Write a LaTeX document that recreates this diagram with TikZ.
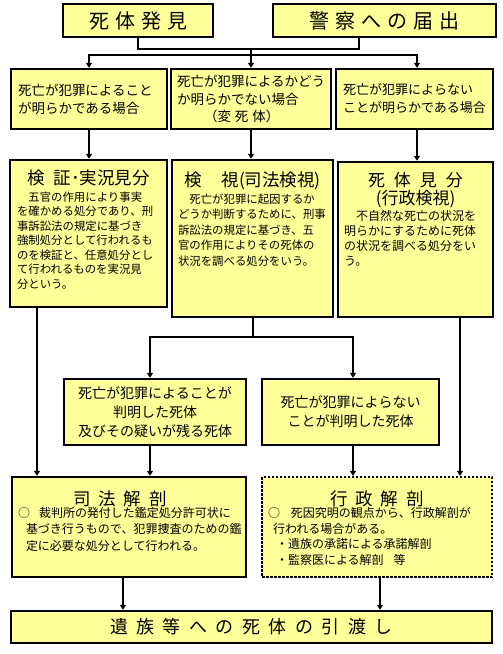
\documentclass[tikz,border=0pt]{standalone}
\usepackage{fontspec}
\setmainfont{Noto Sans CJK JP}
\usetikzlibrary{arrows.meta}
\definecolor{paleyellow}{HTML}{FFFF99}

\begin{document}
\begin{tikzpicture}[x=1pt,y=-1pt]
        \useasboundingbox (0,0) rectangle (503,654);
        \begin{scope}[every node/.style={rectangle,draw,fill=paleyellow,line width=2.4pt,inner sep=0pt}]
            % top row
            \node (1) [minimum width=150pt,minimum height=33pt,font=\fontsize{20}{24}\selectfont] at (138,20.5) {死\hspace{6pt}体\hspace{6pt}発\hspace{6pt}見};
            \node (2) [minimum width=223pt,minimum height=33pt,font=\fontsize{20}{24}\selectfont] at (384.5,20.5) {警\hspace{6pt}察\hspace{6pt}へ\hspace{6pt}の\hspace{6pt}届\hspace{6pt}出};
            % three cases
            \node (3) [minimum width=156pt,minimum height=60pt,text width=142pt,align=left,font=\fontsize{13.5}{18}\selectfont] at (89,99) {死亡が犯罪によること\\が明らかである場合};
            \node (4) [minimum width=160pt,minimum height=60pt,text width=148pt,align=left,font=\fontsize{13.5}{17.5}\selectfont] at (251,99) {死亡が犯罪によるかどう\\か明らかでない場合\\\hspace*{27pt}（変\hspace{4pt}死\hspace{4pt}体）};
            \node (5) [minimum width=157pt,minimum height=60pt,text width=143pt,align=left,font=\fontsize{13}{18}\selectfont] at (414.5,99) {死亡が犯罪によらない\\ことが明らかである場合};
            % procedures
            \node (6) [minimum width=157pt,minimum height=147pt] at (88.5,233.5) {\parbox[c][139pt][t]{143pt}{\vspace*{6pt}\centering\fontsize{17.5}{21}\selectfont 検\hspace{9pt}証･実況見分\par
                \vspace{2pt}\raggedright\fontsize{11.4}{14.5}\selectfont
                \hspace*{11.4pt}五官の作用により事実\\
                を確かめる処分であり、刑\\
                事訴訟法の規定に基づき\\
                強制処分として行われるも\\
                のを検証と、任意処分とし\\
                て行われるものを実況見\\
                分という。}};
            \node (7) [minimum width=161pt,minimum height=157pt] at (252.5,238.5) {\parbox[c][149pt][t]{149pt}{\vspace*{8pt}\centering\fontsize{17.5}{21}\selectfont 検\hspace{20pt}視(司法検視)\par
                \vspace{1pt}\raggedright\fontsize{11.4}{15.5}\selectfont
                \hspace*{11.4pt}死亡が犯罪に起因するか\\
                どうか判断するために、刑事\\
                訴訟法の規定に基づき、五\\
                官の作用によりその死体の\\
                状況を調べる処分をいう。}};
            \node (8) [minimum width=155pt,minimum height=155pt] at (415.5,239.5) {\parbox[c][147pt][t]{143pt}{\vspace*{6pt}\centering\fontsize{17}{18}\selectfont 死\hspace{9pt}体\hspace{9pt}見\hspace{9pt}分\\(行政検視)\par
                \vspace{1pt}\raggedright\fontsize{12}{15}\selectfont
                \hspace*{12pt}不自然な死亡の状況を\\
                明らかにするために死体\\
                の状況を調べる処分をい\\
                う。}};
            % results
            \node (9) [minimum width=182pt,minimum height=66pt,align=center,font=\fontsize{14}{19}\selectfont] at (155,412) {死亡が犯罪によることが\\判明した死体\\及びその疑いが残る死体};
            \node (10) [minimum width=177pt,minimum height=66pt,align=center,font=\fontsize{14}{19}\selectfont] at (350.5,412) {死亡が犯罪によらない\\ことが判明した死体};
            % autopsies
            \node (11) [minimum width=234pt,minimum height=100pt] at (129,527) {\parbox[c][92pt][t]{222pt}{\vspace*{10pt}\centering\fontsize{17.5}{21}\selectfont \hspace*{-18pt}司\hspace{8pt}法\hspace{8pt}解\hspace{8pt}剖\par
                \vspace{-5pt}\raggedright\fontsize{12}{16.5}\selectfont
                ○\hspace{9pt}裁判所の発付した鑑定処分許可状に\\
                \hspace*{8pt}基づき行うもので、犯罪捜査のための鑑\\
                \hspace*{8pt}定に必要な処分として行われる。}};
            \node (12) [minimum width=230pt,minimum height=100pt,line width=2.2pt,dash pattern=on 2.5pt off 1.5pt] at (377,527) {\parbox[c][92pt][t]{218pt}{\vspace*{10pt}\centering\fontsize{17.5}{21}\selectfont 行\hspace{8pt}政\hspace{8pt}解\hspace{8pt}剖\par
                \vspace{-4pt}\raggedright\fontsize{12}{15.7}\selectfont
                ○\hspace{11pt}死因究明の観点から、行政解剖が\\
                \hspace*{5pt}行われる場合がある。\\
                \hspace*{8pt}・遺族の承諾による承諾解剖\\
                \hspace*{8pt}・監察医による解剖\hspace{10pt}等}};
            % hand over
            \node (13) [minimum width=481pt,minimum height=32pt,font=\fontsize{18}{22}\selectfont] at (251.5,627) {遺\hspace{8.5pt}族\hspace{8.5pt}等\hspace{8.5pt}へ\hspace{8.5pt}の\hspace{8.5pt}死\hspace{8.5pt}体\hspace{8.5pt}の\hspace{8.5pt}引\hspace{8.5pt}渡\hspace{8.5pt}し};
        \end{scope}
        \coordinate (j1) at (251,49);
        \coordinate (j2) at (251,55);
        \coordinate (j3) at (252.5,337);
        \begin{scope}[line width=2pt,>={Triangle[length=5pt,width=6pt]}]
            \draw (1.south) |- (j1) -| ([xshift=-25.5pt]2.south);
            \draw (j1) -- (j2);
            \draw[->] (j2) -| (3.north);
            \draw[->] (j2) -- (4.north);
            \draw[->] (j2) -| ([xshift=2.5pt]5.north);
            \draw[->] (3.south) -- (3.south |- 6.north);
            \draw[->] (4.south) -- (4.south |- 7.north);
            \draw[->] ([xshift=2.5pt]5.south) -- ([xshift=2.5pt]5.south |- 8.north);
            \draw[->] ([xshift=-51.5pt]6.south) -- ([xshift=-51.5pt]6.south |- 11.north);
            \draw (7.south) -- (j3);
            \draw[->] (j3) -| ([xshift=-5pt]9.north);
            \draw[->] (j3) -| ([xshift=2.5pt]10.north);
            \draw[->] ([xshift=44.5pt]8.south) -- ([xshift=44.5pt]8.south |- 12.north);
            \draw[->] ([xshift=-5pt]9.south) -- ([xshift=-5pt]9.south |- 11.north);
            \draw[->] ([xshift=2.5pt]10.south) -- ([xshift=2.5pt]10.south |- 12.north);
            \draw[->] ([xshift=-6pt]11.south) -- ([xshift=-6pt]11.south |- 13.north);
            \draw[->] ([xshift=3pt]12.south) -- ([xshift=3pt]12.south |- 13.north);
        \end{scope}
    \end{tikzpicture}
\end{document}
